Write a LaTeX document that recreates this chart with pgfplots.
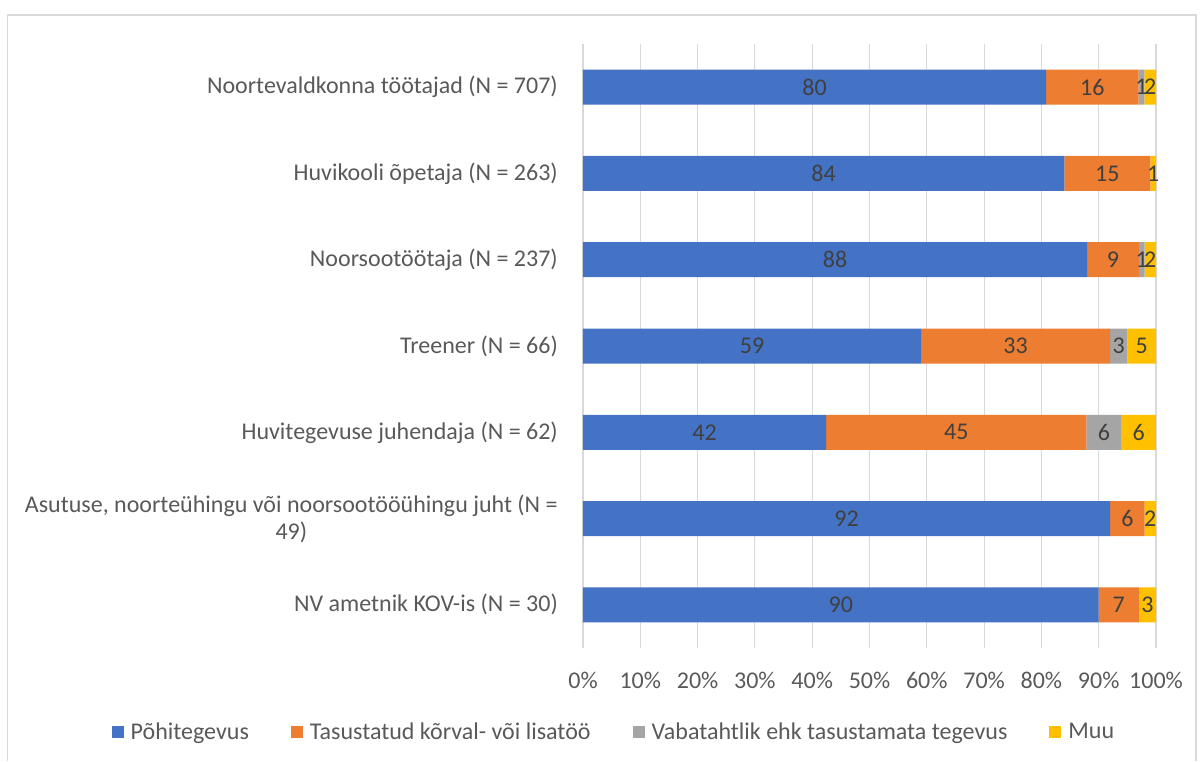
\documentclass[border=0pt]{standalone}
\usepackage{fontspec}
\setmainfont{Carlito}
\usepackage{pgfplots}
\pgfplotsset{compat=1.18}
\definecolor{cblue}{HTML}{4472C4}
\definecolor{corange}{HTML}{ED7D31}
\definecolor{cgray}{HTML}{A5A5A5}
\definecolor{cyellow}{HTML}{FFC000}
\definecolor{gridgray}{HTML}{D9D9D9}
\definecolor{txt}{HTML}{595959}
\definecolor{lbl}{HTML}{404040}

\begin{document}
\begin{tikzpicture}
\useasboundingbox (-583pt,-113pt) rectangle (618pt,648pt);
\draw[gridgray, line width=1.2pt] (-575.5pt,-113pt) -- (-575.5pt,633pt) -- (613pt,633pt) -- (613pt,-113pt);
\begin{axis}[
    at={(0,0)}, anchor=south west,
    scale only axis,
    width=573pt, height=604pt,
    xbar stacked,
    bar width=35pt,
    y dir=reverse,
    xmin=0, xmax=100,
    ymin=-0.5, ymax=6.5,
    xtick={0,10,...,100},
    ytick={0,...,6},
    yticklabels={
        Noortevaldkonna töötajad (N = 707),
        Huvikooli õpetaja (N = 263),
        Noorsootöötaja (N = 237),
        Treener (N = 66),
        Huvitegevuse juhendaja (N = 62),
        {Asutuse, noorteühingu või noorsootööühingu juht (N =\\49)},
        NV ametnik KOV-is (N = 30)},
    /pgf/number format/assume math mode=true,
    xticklabel={\pgfmathprintnumber{\tick}\%},
    font=\fontsize{24}{27}\selectfont,
    xticklabel style={anchor=center, yshift=-32pt, text=txt},
    yticklabel style={anchor=east, align=center, inner sep=0pt, xshift=-25pt, text=txt},
    major tick length=0pt,
    axis line style={draw=none},
    xmajorgrids,
    grid style={gridgray, line width=1.2pt},
    point meta=explicit symbolic,
    nodes near coords,
    every node near coord/.append style={text=lbl, anchor=center, font=\fontsize{24}{27}\selectfont},
    legend columns=4,
    legend style={at={(0.054,-0.139)}, anchor=center, draw=none, fill=none,
        font=\fontsize{24}{27}\selectfont, text=txt,
        /tikz/every even column/.append style={column sep=40pt},
        /tikz/every odd column/.append style={column sep=5pt}},
    legend image code/.code={\fill[#1] (0pt,-6pt) rectangle (12pt,6pt);},
]
\addplot[fill=cblue, draw=none] coordinates {
    (80.81,0) [80] (84,1) [84] (88,2) [88] (59,3) [59]
    (42.42,4) [42] (92,5) [92] (90,6) [90]};
\addplot[fill=corange, draw=none] coordinates {
    (16.16,0) [16] (15,1) [15] (9,2) [9] (33,3) [33]
    (45.45,4) [45] (6,5) [6] (7,6) [7]};
\addplot[fill=cgray, draw=none] coordinates {
    (1.01,0) [1] (0,1) [] (1,2) [1] (3,3) [3]
    (6.06,4) [6] (0,5) [] (0,6) []};
\addplot[fill=cyellow, draw=none] coordinates {
    (2.02,0) [2] (1,1) [1] (2,2) [2] (5,3) [5]
    (6.06,4) [6] (2,5) [2] (3,6) [3]};
\legend{Põhitegevus, Tasustatud kõrval- või lisatöö, Vabatahtlik ehk tasustamata tegevus, Muu}
\end{axis}
\end{tikzpicture}
\end{document}
